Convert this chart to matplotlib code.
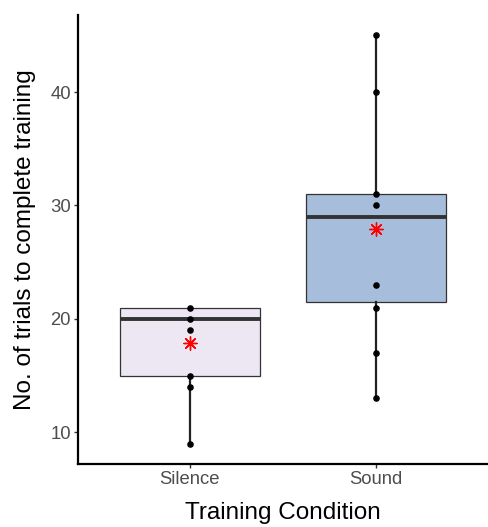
import numpy as np
import matplotlib
matplotlib.use('Agg')
import matplotlib.pyplot as plt

plt.rcParams['font.family'] = ['Liberation Sans', 'DejaVu Sans']

# groups and summary stats
conditions = ['Silence', 'Sound']
q1 = [15, 21.5]
medians = [20, 29]
q3 = [21, 31]
whis_lo = [9, 13]
whis_hi = [21, 45]
means = [17.9, 27.9]

# individual trial counts
silence_pts = [21, 20, 19, 15, 14, 9]
sound_pts = [45, 40, 31, 30, 23, 21, 17, 13]

box_colors = ['#ECE7F2', '#A6BDDB']

fig = plt.figure(figsize=(4.88, 5.27), dpi=100)
ax = fig.add_axes([78/488, 63/527, 410/488, 449/527])

stats = []
for i in range(len(conditions)):
    stats.append({'med': medians[i], 'q1': q1[i], 'q3': q3[i],
                  'whislo': whis_lo[i], 'whishi': whis_hi[i],
                  'fliers': [], 'label': conditions[i]})

bp = ax.bxp(stats, positions=[1, 2], widths=0.75, patch_artist=True,
            showcaps=False, showfliers=False,
            boxprops=dict(edgecolor='#333333', linewidth=0.9),
            whiskerprops=dict(color='#222222', linewidth=1.6),
            medianprops=dict(color='#333333', linewidth=2.8))
for patch, c in zip(bp['boxes'], box_colors):
    patch.set_facecolor(c)

for x, pts in zip([1, 2], [silence_pts, sound_pts]):
    ax.scatter([x]*len(pts), pts, s=14, color='black', zorder=4)

# mean marker, 8-armed asterisk
ax.scatter([1, 2], means, marker=(8, 2, 0), s=90, color='red', linewidths=1.0, zorder=5)

ax.set_xlim(0.4, 2.6)
ax.set_ylim(7.2, 46.8)
ax.set_yticks([10, 20, 30, 40])
ax.set_xticks([1, 2])
ax.set_xticklabels(conditions)

for s in ['top', 'right']:
    ax.spines[s].set_visible(False)
for s in ['left', 'bottom']:
    ax.spines[s].set_linewidth(1.6)
    ax.spines[s].set_color('black')

ax.tick_params(axis='both', labelsize=13.3, labelcolor='#4D4D4D', color='#333333',
               length=3, width=1, pad=2)
ax.set_xlabel('Training Condition', fontsize=17.5, labelpad=10)
ax.set_ylabel('No. of trials to complete training', fontsize=17.5, labelpad=10)

plt.savefig('out.png', dpi=100)
